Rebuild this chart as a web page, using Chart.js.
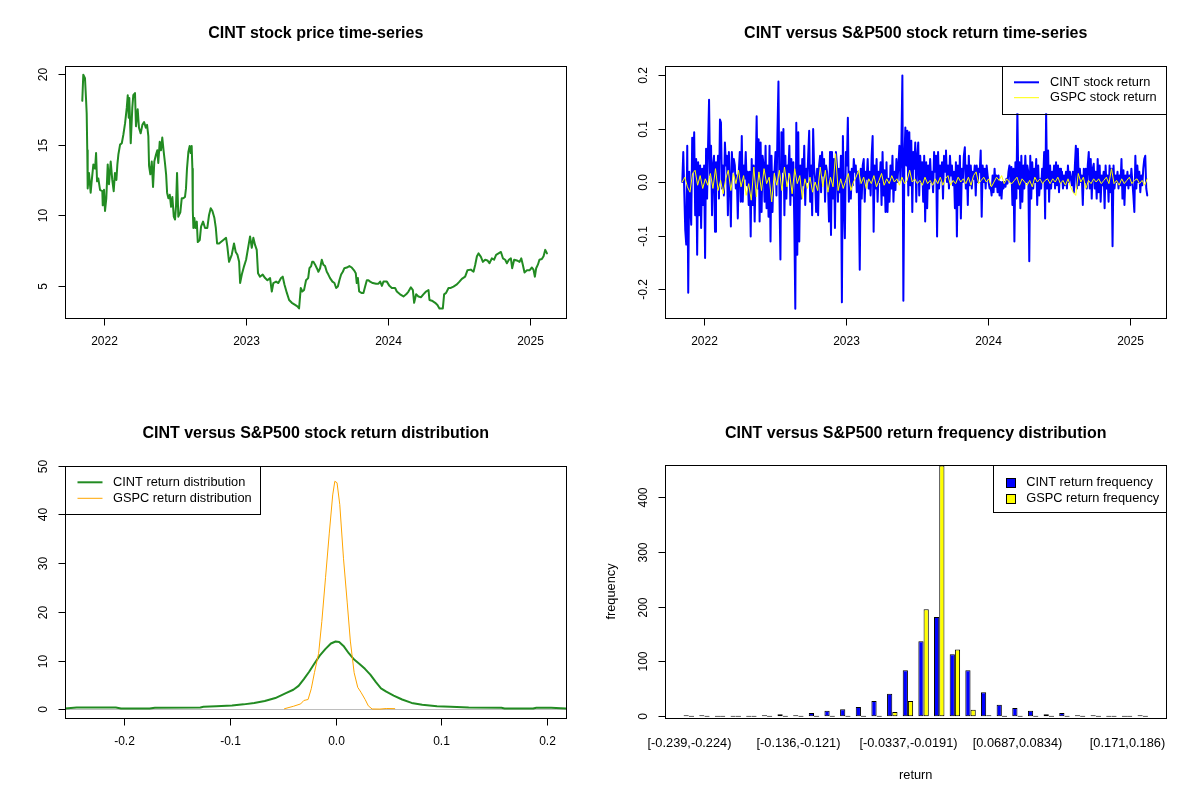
<!DOCTYPE html>
<html>
<head>
<meta charset="utf-8">
<title>CINT vs S&amp;P500</title>
<script src="https://cdn.jsdelivr.net/npm/chart.js@4.4.1/dist/chart.umd.min.js"></script>
<style>
  body { margin: 0; background: #fff; }
  #wrap { position: relative; width: 1200px; height: 800px; }
  .panel { position: absolute; width: 600px; height: 400px; }
</style>
</head>
<body>
<div id="wrap">
  <div class="panel" style="left:0;top:0"><canvas id="c1" width="600" height="400"></canvas></div>
  <div class="panel" style="left:600px;top:0"><canvas id="c2" width="600" height="400"></canvas></div>
  <div class="panel" style="left:0;top:400px"><canvas id="c3" width="600" height="400"></canvas></div>
  <div class="panel" style="left:600px;top:400px"><canvas id="c4" width="600" height="400"></canvas></div>
</div>
<script>
// --- data ---

// CINT closing price (decimal year, USD)
const priceYear = [2021.845,2021.852,2021.864,2021.871,2021.876,2021.880,2021.883,2021.892,2021.904,2021.911,
  2021.923,2021.935,2021.942,2021.949,2021.958,2021.970,2021.986,2021.989,2021.998,2022.005,
  2022.014,2022.024,2022.033,2022.045,2022.056,2022.066,2022.075,2022.085,2022.092,2022.099,
  2022.111,2022.123,2022.134,2022.146,2022.158,2022.165,2022.172,2022.176,2022.186,2022.197,
  2022.204,2022.216,2022.223,2022.235,2022.244,2022.256,2022.268,2022.280,2022.292,2022.301,
  2022.310,2022.315,2022.324,2022.334,2022.343,2022.352,2022.364,2022.373,2022.380,2022.390,
  2022.399,2022.408,2022.418,2022.427,2022.435,2022.442,2022.451,2022.461,2022.470,2022.479,
  2022.489,2022.498,2022.505,2022.512,2022.521,2022.535,2022.545,2022.556,2022.568,2022.575,
  2022.582,2022.592,2022.601,2022.608,2022.615,2022.620,2022.623,2022.627,2022.634,2022.641,
  2022.651,2022.658,2022.672,2022.681,2022.695,2022.709,2022.725,2022.737,2022.749,2022.761,
  2022.775,2022.785,2022.794,2022.808,
  2022.838,2022.857,2022.866,2022.878,2022.897,2022.913,2022.925,2022.937,2022.949,2022.956,
  2022.968,2022.984,2022.998,2023.014,2023.026,2023.038,2023.049,2023.061,2023.073,2023.082,
  2023.096,2023.115,2023.132,2023.148,2023.167,2023.179,2023.190,2023.209,2023.225,2023.244,
  2023.256,2023.268,2023.285,2023.301,2023.320,2023.343,2023.359,2023.371,2023.383,2023.394,
  2023.406,2023.420,2023.435,2023.444,2023.456,2023.463,2023.472,2023.484,2023.496,2023.507,
  2023.519,2023.531,2023.542,2023.554,2023.566,2023.577,2023.589,2023.606,2023.620,2023.632,
  2023.644,2023.655,2023.667,2023.679,2023.690,2023.707,2023.725,2023.742,2023.758,2023.770,
  2023.777,2023.785,2023.794,2023.810,2023.824,2023.836,2023.848,2023.859,2023.871,2023.890,
  2023.913,2023.930,2023.942,2023.954,2023.965,2023.989,2024.007,2024.024,2024.047,2024.059,
  2024.082,2024.106,2024.125,2024.141,2024.158,2024.172,2024.181,2024.195,2024.211,2024.230,
  2024.246,2024.265,2024.282,2024.289,2024.306,2024.329,2024.345,2024.359,2024.383,2024.392,
  2024.406,2024.423,2024.439,2024.458,2024.482,2024.500,2024.517,2024.540,2024.556,2024.580,
  2024.599,2024.611,2024.623,2024.634,2024.651,2024.665,2024.681,2024.697,2024.711,2024.728,
  2024.744,2024.758,2024.775,2024.792,2024.806,2024.822,2024.834,2024.848,2024.862,2024.871,
  2024.885,2024.904,2024.923,2024.935,2024.946,2024.958,2024.975,2024.993,2025.010,2025.021,
  2025.031,2025.040,2025.052,2025.063,2025.080,2025.092,2025.104,2025.116];
const priceValue = [18.1,19.95,19.7,18.3,17.2,14.6,11.9,13.0,11.6,12.4,
  13.6,13.3,14.4,12.4,12.6,11.8,11.7,10.7,11.8,10.3,
  11.2,13.6,12.2,13.8,12.5,11.7,13.0,12.5,13.6,14.3,
  15.0,15.1,15.7,16.5,17.6,18.5,16.9,18.3,15.1,17.6,
  18.5,18.65,16.3,17.5,16.2,15.8,16.4,16.6,16.2,16.4,
  15.6,13.5,12.9,13.8,12.0,13.8,14.3,14.6,13.7,15.2,
  14.6,15.5,14.5,13.7,12.9,11.6,11.2,11.45,10.6,11.3,
  9.9,9.7,10.7,13.0,9.9,10.2,11.2,11.2,11.3,11.9,
  13.3,14.5,14.9,14.4,14.9,13.3,10.3,9.1,9.8,9.1,
  9.55,8.1,8.25,9.2,9.55,9.1,9.1,10.0,10.5,10.3,
  9.8,9.1,8.0,8.0,
  8.25,8.4,7.8,6.7,7.2,8.0,7.4,7.2,6.7,5.2,
  5.8,6.4,6.85,7.8,8.5,7.7,8.4,7.9,7.55,5.9,
  5.65,5.8,5.55,5.4,5.55,4.6,5.2,5.3,5.2,5.55,
  5.65,5.1,4.5,4.0,3.8,3.65,3.55,3.4,4.85,4.6,
  4.7,5.4,5.55,6.25,6.4,6.7,6.7,6.5,6.25,6.0,
  6.25,6.85,6.5,6.4,6.0,5.8,5.55,5.3,5.2,4.85,
  4.95,5.4,5.8,6.0,6.25,6.3,6.4,6.3,6.1,5.9,
  5.2,5.55,4.6,4.5,4.5,4.95,5.4,5.4,5.3,5.2,
  5.15,5.15,5.3,5.0,5.3,5.3,5.0,4.85,4.85,4.6,
  4.4,4.25,4.4,4.6,4.9,4.7,3.8,4.4,4.25,4.2,
  4.4,4.6,4.7,4.0,3.95,3.8,3.65,3.4,3.4,4.4,
  4.5,4.85,4.85,4.95,5.1,5.3,5.5,5.65,6.1,6.15,
  6.0,6.5,7.1,7.3,7.05,6.7,6.85,6.8,6.6,6.95,
  6.85,7.2,7.3,7.4,6.95,6.85,6.6,6.85,6.95,6.25,
  6.85,6.8,6.7,6.95,6.5,5.95,6.1,6.1,6.3,6.15,
  5.65,6.25,6.5,6.85,6.9,7.1,7.55,7.3];

// daily returns, first and last trading day as decimal year
const retStart = 2021.845;
const retEnd = 2025.118;
const cintReturn = [0,.056,-.019,-.090,-.117,.068,-.207,.019,-.043,-.080,.083,.019,.093,-.062,.043,-.136,.037,-.062,.031,-.086,
  .025,-.043,.031,-.142,.062,-.031,.068,.154,.012,.068,-.062,.031,.049,-.093,.037,-.012,.049,-.031,.117,.111,
  -.012,.031,-.025,.074,.031,.049,-.062,.056,0,-.083,.056,.019,.043,.031,-.012,.012,-.068,.019,.056,-.037,
  .086,-.037,.031,.006,.056,-.006,.019,-.043,.019,-.102,.043,-.043,.031,-.074,.019,.123,-.012,.080,-.074,.074,
  -.056,.049,.031,-.037,.068,-.049,.031,-.065,.068,-.111,.049,-.056,.019,.019,.056,-.025,.093,.188,-.025,-.145,
  .093,.019,.099,-.062,.049,-.031,.031,.019,.068,-.043,.043,-.025,.037,-.080,-.237,.111,-.136,.093,-.111,.031,
  -.031,.043,-.006,.068,-.043,.025,0,.049,.096,-.037,.031,-.062,.099,.025,.006,-.056,.025,-.062,.031,.049,
  -.019,.056,.012,.043,-.037,.031,.019,-.006,-.074,.056,-.099,.056,-.031,.043,-.086,.056,.031,-.037,.025,-.019,
  .049,-.225,.086,-.037,-.105,.056,.031,.120,-.037,.019,-.031,.025,-.006,.043,.019,.031,-.019,.019,-.012,-.164,
  .025,-.031,.031,.043,-.037,.019,.006,.043,-.012,.019,-.025,.049,.086,-.093,.031,-.012,.043,-.037,.019,0,
  .037,-.043,.056,-.025,.022,-.056,.037,-.056,.006,-.037,.031,-.012,.049,-.037,.019,-.015,.043,0,.031,.068,
  .003,.068,.199,-.222,.043,.102,.031,.096,-.025,.093,-.006,.077,-.056,.056,.025,.074,-.037,.049,.074,-.025,
  .049,0,.037,-.037,.049,-.074,.037,-.049,.031,-.012,.043,0,.019,-.019,.056,.019,.049,-.102,.056,-.012,
  .031,.003,.037,-.031,.049,.019,.059,0,.031,-.012,.049,.012,.031,-.006,.019,-.049,.037,-.102,.031,-.043,
  .049,-.068,.025,0,.049,.065,-.012,.031,-.043,.049,-.006,.031,-.012,.019,.006,.031,-.025,.031,0,.025,
  .019,.059,-.065,.031,0,.025,-.012,.031,.012,0,-.012,-.009,-.025,.012,-.019,.025,-.009,.012,-.019,.012,
  -.025,0,-.031,0,-.012,0,-.009,.006,-.003,.019,.031,0,.028,-.043,.025,-.111,.037,-.031,.136,-.012,
  .037,-.049,.049,-.037,.031,-.012,.049,0,.031,.019,-.148,.049,-.031,.037,-.012,.025,0,.043,-.043,.031,
  -.025,.006,-.012,.025,0,.056,-.068,.130,-.012,.059,-.037,.031,-.012,.019,0,.031,-.012,.037,-.006,.031,
  -.019,.025,0,.019,-.012,.012,-.006,.019,-.012,.031,0,.019,.006,-.006,.019,-.019,.031,.068,-.012,.062,
  -.006,.025,0,.012,-.043,.025,0,.025,-.012,.031,.056,-.012,.043,-.031,.025,.034,-.012,.019,-.031,.043,
  -.019,.031,-.037,.012,-.006,.019,-.049,.031,-.012,.012,-.037,.031,-.019,.025,-.120,.031,-.012,.012,0,.019,
  -.012,.012,-.006,.043,-.031,.022,-.043,.012,-.006,.019,-.012,.012,-.006,.025,0,-.025,-.056,.049,-.012,.031,
  0,.019,-.019,.012,-.006,.025,.043,.049,-.012,-.025];
const gspcReturn = [0,.009,-.009,-.019,.016,.022,-.006,.012,-.012,.006,-.006,.016,-.012,.025,-.016,.003,-.022,.006,.022,-.016,
  .016,-.003,.022,-.009,.012,-.025,-.003,-.034,.028,-.028,.019,-.016,.025,-.003,.009,-.037,.016,-.006,.022,-.016,
  .028,-.009,.016,-.022,.025,-.003,.012,-.031,.006,-.012,.009,-.019,0,-.016,.028,-.009,.022,-.019,.009,-.009,
  .053,-.016,.006,-.012,.003,.016,-.016,0,.009,.022,-.003,.009,-.012,.006,-.003,.012,-.009,.003,.016,-.006,
  .006,-.003,.012,0,.006,-.006,.009,-.003,.003,.022,0,.006,-.003,.003,-.006,.009,-.003,.003,-.006,.006,
  -.003,.009,-.006,.006,.012,-.006,.003,-.003,.009,0,.006,-.003,.009,-.006,.012,.019,-.003,.003,.009,0,
  .006,-.009,0,.009,.003,.012,-.003,.006,0,-.003,.003,.009,-.006,.006,0,-.006,.003,-.009,.009,0,
  .006,-.003,.003,.006,-.003,.006,0,.009,-.003,.003,-.006,.006,-.009,-.019,-.025,.016,0,.009,-.012,.003,
  -.003,.006,0,.006,-.003,.003,.009,-.003,.025,-.003,.003,-.006,.006,-.003,.003,.009,-.003,.003,.006,-.003,
  .003,-.006,.006];

// kernel density estimates
const cintDensX = [-0.257,-0.245,-0.208,-0.203,-0.176,-0.171,-0.128,-0.125,-0.113,-0.098,-0.087,-0.077,-0.067,-0.057,-0.047,-0.040,
  -0.035,-0.030,-0.025,-0.020,-0.015,-0.0095,-0.0044,0.0,0.0034,0.0075,0.0125,0.0176,0.0227,0.0278,0.0329,0.038,
  0.043,0.048,0.055,0.063,0.072,0.082,0.096,0.109,0.126,0.157,0.160,0.187,0.190,0.204,0.218];
const cintDensY = [0.15,0.35,0.35,0.15,0.15,0.3,0.35,0.5,0.6,0.75,1.0,1.3,1.7,2.3,3.3,4.0,
  4.8,6.2,7.7,9.4,11.0,12.4,13.5,13.9,13.8,13.0,11.5,10.2,9.3,8.3,7.1,5.6,
  4.3,3.6,2.8,2.0,1.3,0.9,0.6,0.5,0.35,0.3,0.15,0.15,0.3,0.3,0.15];
const gspcDensX = [-0.0485,-0.040,-0.033,-0.030,-0.026,-0.023,-0.020,-0.016,-0.013,-0.0095,-0.006,-0.0027,-0.0007,0.0014,
  0.004,0.0075,0.011,0.014,0.0176,0.021,0.024,0.028,0.031,0.0346,0.042,0.048,0.056];
const gspcDensY = [0.1,0.6,1.1,1.8,2.0,4.2,7.5,11.5,18,27,36,44,46.8,46.5,
  42,31,22,14,7.5,4.5,3.5,2.0,0.7,0.05,0.03,0.15,0.12];

// return frequency per bin (30 bins from -0.239 to 0.2)
const cintFreq = [2,2,0,0,0,2,4,2,6,10,13,17,28,41,84,137,181,113,84,44,21,15,10,4,6,2,2,0,0,2];
const gspcFreq = [0,0,0,0,0,0,0,0,0,0,0,0,0,8,28,195,457,122,12,2,0,0,0,0,0,0,0,0,0,0];
const histTickBins = [0, 7, 14, 21, 28];
const histTickLabels = ['[-0.239,-0.224)', '[-0.136,-0.121)', '[-0.0337,-0.0191)', '[0.0687,0.0834)', '[0.171,0.186)'];

// axis ticks
const yearTicks = [2022, 2023, 2024, 2025];
const priceTicks = [5, 10, 15, 20];
const retTicks = [-0.2, -0.1, 0.0, 0.1, 0.2];
const retTickLabels = ['-0.2', '-0.1', '0.0', '0.1', '0.2'];
const densXTicks = [-0.2, -0.1, 0.0, 0.1, 0.2];
const densXTickLabels = ['-0.2', '-0.1', '0.0', '0.1', '0.2'];
const densYTicks = [0, 10, 20, 30, 40, 50];
const freqTicks = [0, 100, 200, 300, 400];

// --- drawing ---
const FONT = '"Liberation Sans", Arial, sans-serif';

function line(ctx, x0, y0, x1, y1) {
  ctx.beginPath(); ctx.moveTo(x0, y0); ctx.lineTo(x1, y1); ctx.stroke();
}

// base-R look: box, outside ticks, rotated y labels, title, legend
const rFrame = {
  id: 'rFrame',
  beforeDatasetsDraw(chart, args, o) {
    if (o.zeroLine === undefined) return;
    const a = chart.chartArea, ctx = chart.ctx;
    const py = Math.round(chart.scales.y.getPixelForValue(o.zeroLine)) + 0.5;
    ctx.save();
    ctx.strokeStyle = '#BEBEBE'; ctx.lineWidth = 1;
    line(ctx, a.left, py, a.right, py);
    ctx.restore();
  },
  afterDraw(chart, args, o) {
    const ctx = chart.ctx, a = chart.chartArea;
    const xs = chart.scales.x, ys = chart.scales.y;
    const L = Math.round(a.left) + 0.5, R = Math.round(a.right) + 0.5;
    const T = Math.round(a.top) + 0.5, B = Math.round(a.bottom) + 0.5;
    ctx.save();
    ctx.strokeStyle = '#000'; ctx.fillStyle = '#000'; ctx.lineWidth = 1;
    ctx.strokeRect(L, T, R - L, B - T);

    ctx.font = (o.xTicks.size || 12) + 'px ' + FONT;
    ctx.textAlign = 'center'; ctx.textBaseline = 'middle';
    o.xTicks.values.forEach((v, i) => {
      const px = Math.round(xs.getPixelForValue(v)) + 0.5;
      if (o.xTicks.marks) line(ctx, px, B, px, B + 7);
      ctx.fillText(o.xTicks.labels[i], px, a.bottom + o.xTicks.offset);
    });
    ctx.font = '12px ' + FONT;
    o.yTicks.values.forEach((v, i) => {
      const py = Math.round(ys.getPixelForValue(v)) + 0.5;
      line(ctx, L - 7, py, L, py);
      ctx.save();
      ctx.translate(a.left - 22, py);
      ctx.rotate(-Math.PI / 2);
      ctx.fillText(o.yTicks.labels[i], 0, 0);
      ctx.restore();
    });

    ctx.font = '12.8px ' + FONT;
    if (o.xTitle) ctx.fillText(o.xTitle.text, (a.left + a.right) / 2, o.xTitle.y);
    if (o.yTitle) {
      ctx.save();
      ctx.translate(o.yTitle.x, (a.top + a.bottom) / 2);
      ctx.rotate(-Math.PI / 2);
      ctx.fillText(o.yTitle.text, 0, 0);
      ctx.restore();
    }

    ctx.font = 'bold 16px ' + FONT;
    ctx.fillText(o.title, (a.left + a.right) / 2, 34);

    const g = o.legend;
    if (g) {
      ctx.fillStyle = '#fff';
      ctx.fillRect(g.x, g.y, g.w, g.h);
      ctx.strokeRect(Math.round(g.x) + 0.5, Math.round(g.y) + 0.5, Math.round(g.w), Math.round(g.h));
      ctx.font = '12.8px ' + FONT;
      ctx.textAlign = 'left';
      g.items.forEach((di, i) => {
        const ds = chart.data.datasets[di];
        const y = g.rows[i];
        if (g.symbol === 'line') {
          ctx.strokeStyle = ds.borderColor; ctx.lineWidth = ds.borderWidth;
          line(ctx, g.symX0, y, g.symX1, y);
        } else {
          const s = g.boxSize;
          ctx.fillStyle = ds.backgroundColor;
          ctx.fillRect(g.symX0, Math.round(y - s / 2), s, s);
          ctx.strokeStyle = '#000'; ctx.lineWidth = 1;
          ctx.strokeRect(g.symX0 + 0.5, Math.round(y - s / 2) + 0.5, s, s);
        }
        ctx.fillStyle = '#000';
        ctx.fillText(ds.label, g.textX, y);
      });
    }
    ctx.restore();
  }
};

function options(xScale, yScale, frame) {
  const hidden = { grid: { display: false }, border: { display: false }, ticks: { display: false } };
  return {
    responsive: false,
    animation: false,
    events: [],
    layout: { padding: { top: 65.7, right: 33.8, bottom: 0, left: 0 } },
    plugins: { legend: { display: false }, tooltip: { enabled: false }, rFrame: frame },
    scales: {
      x: Object.assign({}, hidden, { afterFit: s => { s.height = 81.8; } }, xScale),
      y: Object.assign({}, hidden, { afterFit: s => { s.width = 65.3; } }, yScale)
    }
  };
}

function lineSet(label, points, color, width, order) {
  return {
    label: label, data: points, borderColor: color, borderWidth: width, order: order,
    pointRadius: 0, tension: 0, fill: false, borderCapStyle: 'round', borderJoinStyle: 'round'
  };
}

function pairs(xs, ys) { return xs.map((x, i) => ({ x: x, y: ys[i] })); }

// each return belongs to one trading day, spread evenly between first and last day
function tradingDays(values) {
  const n = values.length;
  return values.map((v, i) => ({ x: retStart + (retEnd - retStart) * i / (n - 1), y: v }));
}

// 1. price
new Chart(document.getElementById('c1'), {
  type: 'line',
  data: { datasets: [lineSet('CINT price', pairs(priceYear, priceValue), '#228B22', 2, 1)] },
  options: options(
    { type: 'linear', min: 2021.7254, max: 2025.2514 },
    { type: 'linear', min: 2.71, max: 20.59 },
    {
      title: 'CINT stock price time-series',
      xTicks: { values: yearTicks, labels: yearTicks.map(String), marks: true, offset: 23 },
      yTicks: { values: priceTicks, labels: priceTicks.map(String) }
    }),
  plugins: [rFrame]
});

// 2. returns over time
new Chart(document.getElementById('c2'), {
  type: 'line',
  data: { datasets: [
    lineSet('CINT stock return', tradingDays(cintReturn), '#0000FF', 2, 2),
    lineSet('GSPC stock return', tradingDays(gspcReturn), '#FFFF00', 1, 1)
  ] },
  options: options(
    { type: 'linear', min: 2021.7254, max: 2025.2514 },
    { type: 'linear', min: -0.2546, max: 0.2175 },
    {
      title: 'CINT versus S&P500 stock return time-series',
      xTicks: { values: yearTicks, labels: yearTicks.map(String), marks: true, offset: 23 },
      yTicks: { values: retTicks, labels: retTickLabels },
      legend: { x: 402.3, y: 65.7, w: 164, h: 47.6, symbol: 'line', symX0: 414, symX1: 439, textX: 450,
                rows: [82.3, 97.7], items: [0, 1] }
    }),
  plugins: [rFrame]
});

// 3. return densities
new Chart(document.getElementById('c3'), {
  type: 'line',
  data: { datasets: [
    lineSet('CINT return distribution', pairs(cintDensX, cintDensY), '#228B22', 2, 2),
    lineSet('GSPC return distribution', pairs(gspcDensX, gspcDensY), '#FFA500', 1, 1)
  ] },
  options: options(
    { type: 'linear', min: -0.2558, max: 0.2183 },
    { type: 'linear', min: -1.84, max: 50 },
    {
      title: 'CINT versus S&P500 stock return distribution',
      zeroLine: 0,
      xTicks: { values: densXTicks, labels: densXTickLabels, marks: true, offset: 23 },
      yTicks: { values: densYTicks, labels: densYTicks.map(String) },
      legend: { x: 65.3, y: 65.7, w: 195.3, h: 47.8, symbol: 'line', symX0: 77.5, symX1: 102.5, textX: 113,
                rows: [82.3, 98.3], items: [0, 1] }
    }),
  plugins: [rFrame]
});

// 4. return frequencies (one empty slot each side for base-R's axis margin)
const histCats = ['pad0'].concat(cintFreq.map((_, i) => 'bin' + i), ['pad1']);
const barSet = (label, counts, color) => ({
  label: label, data: [null].concat(counts, [null]), backgroundColor: color,
  borderColor: '#000', borderWidth: 1, borderSkipped: false, minBarLength: 1,
  categoryPercentage: 2 / 3, barPercentage: 1
});
const histOpts = options(
  { type: 'category', offset: true },
  { type: 'linear', min: -2.5, max: 457.5 },
  {
    title: 'CINT versus S&P500 return frequency distribution',
    xTicks: { values: histTickBins.map(b => b + 1), labels: histTickLabels, marks: false, offset: 25.6, size: 12.8 },
    yTicks: { values: freqTicks, labels: freqTicks.map(String) },
    xTitle: { text: 'return', y: 375 },
    yTitle: { text: 'frequency', x: 11.7 },
    legend: { x: 393.2, y: 65.3, w: 173, h: 47.3, symbol: 'box', symX0: 406, boxSize: 9, textX: 426.2,
              rows: [82.3, 98.3], items: [0, 1] }
  });
histOpts.layout.padding.top = 65.3;
histOpts.scales.x.afterFit = s => { s.height = 82.3; };
new Chart(document.getElementById('c4'), {
  type: 'bar',
  data: { labels: histCats, datasets: [
    barSet('CINT return frequency', cintFreq, '#0000FF'),
    barSet('GSPC return frequency', gspcFreq, '#FFFF00')
  ] },
  options: histOpts,
  plugins: [rFrame]
});
</script>
</body>
</html>
